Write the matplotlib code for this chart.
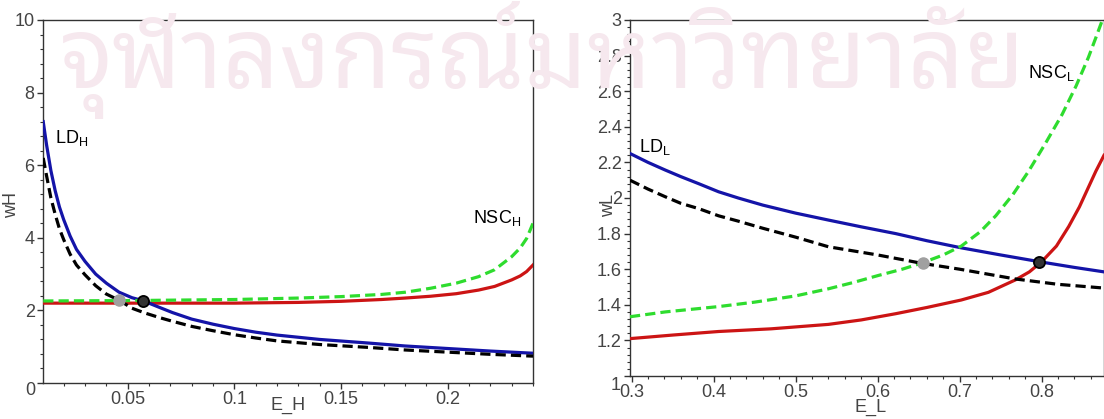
import matplotlib
matplotlib.use("Agg")
import matplotlib.pyplot as plt
from matplotlib import font_manager, ft2font
from matplotlib.ticker import MultipleLocator, FixedLocator

plt.rcParams['font.family'] = ['Liberation Sans', 'DejaVu Sans']
plt.rcParams['mathtext.default'] = 'regular'

# ---- left panel (E_H, wH) ----
xH_blue = [0.0104, 0.012, 0.014, 0.016, 0.018, 0.02, 0.023, 0.026, 0.03, 0.035, 0.04, 0.046, 0.052, 0.057,
           0.065, 0.071, 0.08, 0.09, 0.1, 0.11, 0.12, 0.14, 0.163, 0.18, 0.2, 0.22, 0.24]
yH_blue = [7.2, 6.55, 5.85, 5.3, 4.85, 4.5, 4.05, 3.68, 3.35, 3.0, 2.75, 2.5, 2.35, 2.27,
           2.08, 1.94, 1.76, 1.62, 1.5, 1.4, 1.32, 1.2, 1.1, 1.02, 0.95, 0.88, 0.82]
xH_black = [0.0104, 0.012, 0.014, 0.016, 0.018, 0.02, 0.023, 0.026, 0.03, 0.035, 0.04, 0.046, 0.052, 0.058,
            0.065, 0.071, 0.08, 0.09, 0.1, 0.11, 0.12, 0.14, 0.163, 0.18, 0.2, 0.22, 0.24]
yH_black = [6.2, 5.7, 5.1, 4.65, 4.25, 3.95, 3.55, 3.25, 2.98, 2.68, 2.45, 2.28, 2.06, 1.93,
            1.8, 1.7, 1.56, 1.44, 1.33, 1.24, 1.16, 1.06, 0.98, 0.91, 0.85, 0.79, 0.74]
xH_green = [0.0104, 0.05, 0.1, 0.13, 0.15, 0.169, 0.18, 0.192, 0.204, 0.2145, 0.222, 0.23, 0.234, 0.237, 0.24]
yH_green = [2.26, 2.27, 2.3, 2.34, 2.38, 2.44, 2.5, 2.61, 2.75, 2.93, 3.12, 3.48, 3.72, 3.98, 4.4]
xH_red = [0.0104, 0.1, 0.13, 0.15, 0.169, 0.18, 0.192, 0.204, 0.2145, 0.222, 0.23, 0.234, 0.237, 0.24]
yH_red = [2.2, 2.2, 2.22, 2.25, 2.3, 2.34, 2.39, 2.46, 2.56, 2.66, 2.84, 2.95, 3.07, 3.25]
ptH_gray = (0.046, 2.29)
ptH_black = (0.057, 2.27)

# ---- right panel (E_L, wL) ----
xL_blue = [0.298, 0.32, 0.341, 0.36, 0.382, 0.406, 0.43, 0.46, 0.5, 0.54, 0.58, 0.622, 0.66, 0.702,
           0.75, 0.8, 0.84, 0.876]
yL_blue = [2.25, 2.2, 2.157, 2.12, 2.08, 2.035, 2.0, 1.96, 1.915, 1.876, 1.838, 1.8, 1.76, 1.72,
           1.68, 1.64, 1.61, 1.585]
xL_black = [0.298, 0.32, 0.341, 0.36, 0.382, 0.406, 0.43, 0.46, 0.5, 0.54, 0.6, 0.654, 0.7, 0.768,
            0.82, 0.876]
yL_black = [2.1, 2.05, 2.007, 1.97, 1.94, 1.9, 1.87, 1.83, 1.78, 1.726, 1.68, 1.633, 1.6, 1.545,
            1.515, 1.494]
xL_green = [0.298, 0.341, 0.406, 0.45, 0.5, 0.54, 0.57, 0.601, 0.63, 0.654, 0.68, 0.702, 0.725, 0.744,
            0.765, 0.784, 0.805, 0.825, 0.842, 0.857, 0.866, 0.874]
yL_green = [1.333, 1.36, 1.39, 1.415, 1.45, 1.49, 1.525, 1.565, 1.6, 1.635, 1.68, 1.73, 1.81, 1.9,
            2.02, 2.15, 2.31, 2.47, 2.63, 2.79, 2.9, 3.0]
xL_red = [0.298, 0.35, 0.406, 0.47, 0.54, 0.58, 0.622, 0.66, 0.702, 0.735, 0.768, 0.785, 0.8, 0.818,
          0.833, 0.846, 0.857, 0.866, 0.876]
yL_red = [1.21, 1.23, 1.25, 1.265, 1.29, 1.315, 1.35, 1.385, 1.427, 1.47, 1.54, 1.585, 1.642, 1.73,
          1.84, 1.95, 2.06, 2.15, 2.24]
ptL_gray = (0.655, 1.633)
ptL_black = (0.797, 1.643)

watermark = 'จุฬาลงกรณ์มหาวิทยาลัย'

blue = '#1414a8'
green = '#2edc2e'
red = '#cc1414'
tickc = '#444444'
fs = 13

fig = plt.figure(figsize=(11.04, 4.19), dpi=100)

# watermark: pick an installed font with Thai glyphs, looped styles first
thai_fonts = []
for f in font_manager.fontManager.ttflist:
    try:
        if 0x0E08 in ft2font.FT2Font(f.fname).get_charmap():
            thai_fonts.append(f.name)
    except Exception:
        pass
prefer = ['Noto Sans Thai Looped', 'Noto Serif Thai', 'Loma', 'Garuda', 'Norasi', 'Tlwg Typo', 'Noto Sans Thai']
thai_family = None
for p in prefer:
    if p in thai_fonts:
        thai_family = p
        break
if thai_family is None and thai_fonts:
    thai_family = thai_fonts[0]
if thai_family:
    fig.text(0.492, 1-88/419, watermark, ha='center', va='baseline',
             fontsize=71, color='#f6e8ee', zorder=0, family=[thai_family, 'DejaVu Sans'])

axL = fig.add_axes([43/1104, 1-383/419, (533-43)/1104, (383-20)/419])
axR = fig.add_axes([630/1104, 1-376/419, (1104-630)/1104, (376-20)/419])

def style(ax):
    ax.patch.set_alpha(0)
    for s in ax.spines.values():
        s.set_color('#333333')
        s.set_linewidth(1.0)
    ax.tick_params(which='major', direction='out', length=4, width=1, color='#333333',
                   labelcolor=tickc, labelsize=fs, pad=2)
    ax.tick_params(which='minor', direction='out', length=2.5, width=0.8, color='#333333')

dash = (0, (3.2, 1.6))
lw = 2.3

axL.plot(xH_red, yH_red, color=red, lw=lw, zorder=3)
axL.plot(xH_green, yH_green, color=green, lw=lw, ls=dash, zorder=4)
axL.plot(xH_black, yH_black, color='black', lw=lw, ls=dash, zorder=4)
axL.plot(xH_blue, yH_blue, color=blue, lw=lw, zorder=3)
axL.plot(*ptH_gray, 'o', ms=8, color='#a0a0a0', mec='#a0a0a0', zorder=6)
axL.plot(*ptH_black, 'o', ms=8, color='#333333', mec='black', mew=1.3, zorder=6)
axL.set_xlim(0.0103, 0.24)
axL.set_ylim(0, 10)
axL.xaxis.set_major_locator(FixedLocator([0.05, 0.1, 0.15, 0.2]))
axL.set_xticklabels(['0.05', '0.1', '0.15', '0.2'])
axL.xaxis.set_minor_locator(MultipleLocator(0.01))
axL.yaxis.set_major_locator(FixedLocator([0, 2, 4, 6, 8, 10]))
axL.set_yticklabels(['', '2', '4', '6', '8', '10'])
axL.yaxis.set_minor_locator(MultipleLocator(0.4))
style(axL)
fig.text(30/1104, 1-390/419, '0', ha='center', va='center', fontsize=fs, color=tickc)
fig.text(288/1104, 1-405/419, 'E_H', ha='center', va='center', fontsize=fs, color=tickc)
fig.text(12/1104, 1-205/419, 'wH', ha='center', va='center', fontsize=fs, color=tickc, rotation=90)
axL.text(0.0159, 6.6, r'LD$_{H}$', fontsize=13, ha='left', va='baseline')
axL.text(0.212, 4.41, r'NSC$_{H}$', fontsize=13, ha='left', va='baseline')

axR.plot(xL_red, yL_red, color=red, lw=lw, zorder=3)
axR.plot(xL_green, yL_green, color=green, lw=lw, ls=dash, zorder=4)
axR.plot(xL_black, yL_black, color='black', lw=lw, ls=dash, zorder=4)
axR.plot(xL_blue, yL_blue, color=blue, lw=lw, zorder=3)
axR.plot(*ptL_gray, 'o', ms=8, color='#a0a0a0', mec='#a0a0a0', zorder=6)
axR.plot(*ptL_black, 'o', ms=8, color='#333333', mec='black', mew=1.3, zorder=6)
axR.set_xlim(0.298, 0.876)
axR.set_ylim(1, 3)
axR.xaxis.set_major_locator(FixedLocator([0.3, 0.4, 0.5, 0.6, 0.7, 0.8]))
axR.set_xticklabels(['0.3', '0.4', '0.5', '0.6', '0.7', '0.8'])
axR.xaxis.set_minor_locator(MultipleLocator(0.02))
yt = [1, 1.2, 1.4, 1.6, 1.8, 2, 2.2, 2.4, 2.6, 2.8, 3]
axR.yaxis.set_major_locator(FixedLocator(yt))
axR.set_yticklabels([''] + ['1.2', '1.4', '1.6', '1.8', '2', '2.2', '2.4', '2.6', '2.8', '3'])
axR.yaxis.set_minor_locator(MultipleLocator(0.04))
style(axR)
fig.text(616/1104, 1-385/419, '1', ha='center', va='center', fontsize=fs, color=tickc)
fig.text(871/1104, 1-407/419, 'E_L', ha='center', va='center', fontsize=fs, color=tickc)
fig.text(609/1104, 1-205/419, 'wL', ha='center', va='center', fontsize=fs, color=tickc, rotation=90)
axR.text(0.3085, 2.258, r'LD$_{L}$', fontsize=13, ha='left', va='baseline')
axR.text(0.783, 2.674, r'NSC$_{L}$', fontsize=13, ha='left', va='baseline')

fig.savefig('out.png', dpi=100)
